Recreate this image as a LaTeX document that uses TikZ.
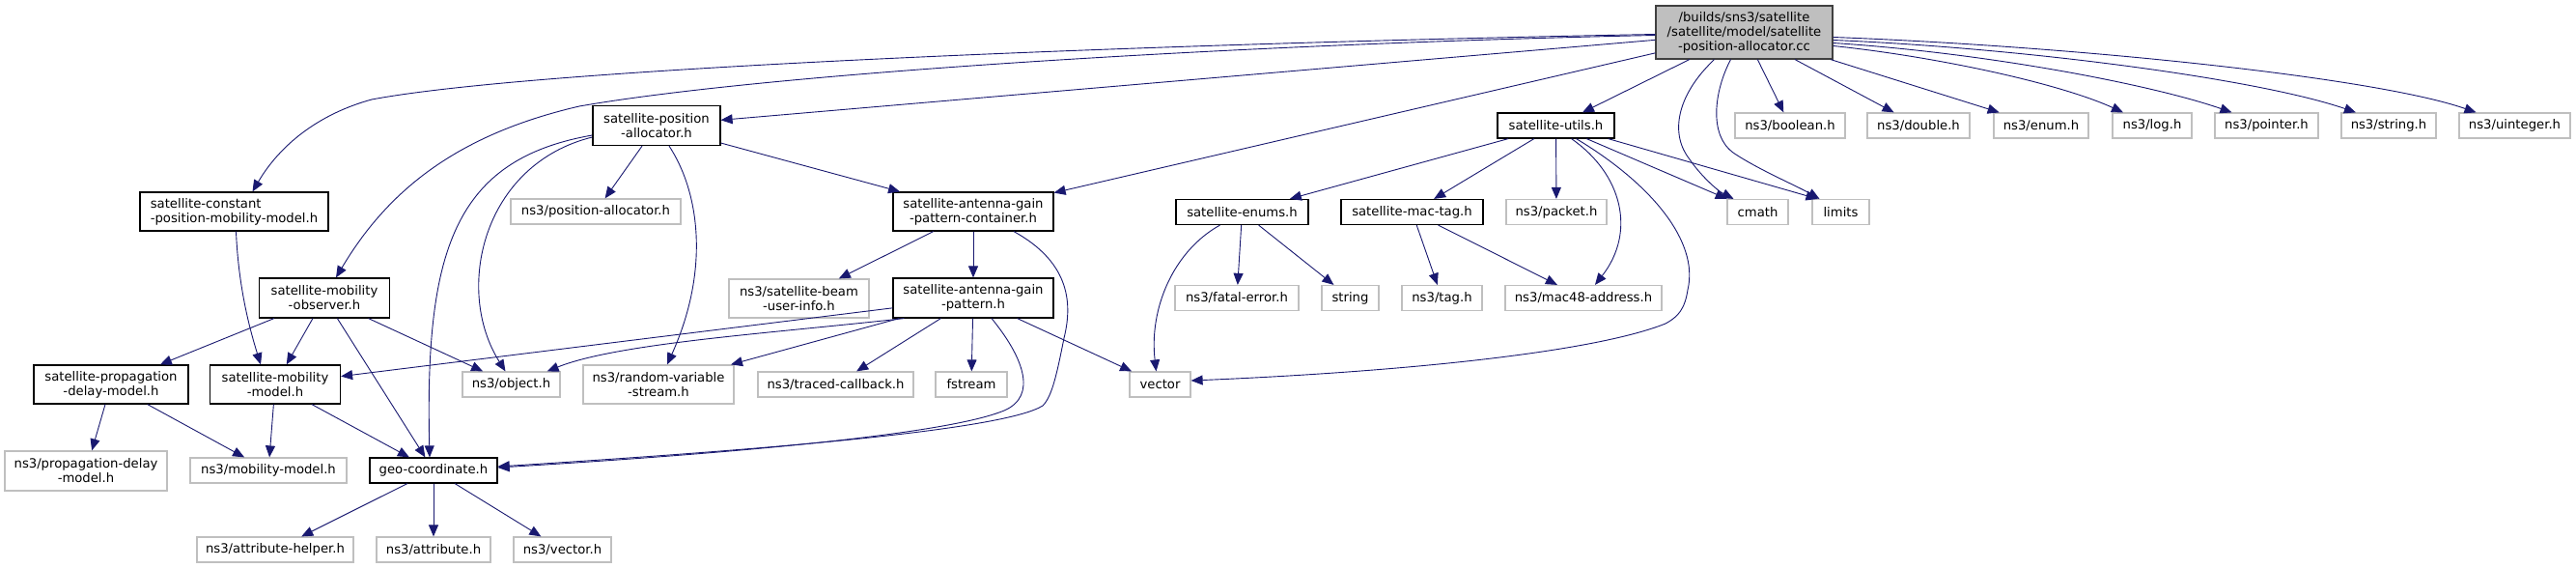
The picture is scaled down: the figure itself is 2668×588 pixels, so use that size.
\documentclass[tikz,border=0pt]{standalone}
\usepackage{fontspec}
\setmainfont{DejaVu Sans}
\usetikzlibrary{arrows.meta,calc}
\definecolor{edgeblue}{HTML}{191970}
\definecolor{extgray}{HTML}{BFBFBF}
\definecolor{topfill}{HTML}{BFBFBF}
\definecolor{topdraw}{HTML}{404040}
\tikzset{
  base/.style={draw, rectangle, inner sep=0pt, align=center, fill=white,
    line width=0.6pt, font=\fontsize{6.6pt}{7.5pt}\selectfont},
  int/.style={base, draw=black},
  ext/.style={base, draw=extgray},
  topnode/.style={base, draw=topdraw, fill=topfill},
  bw/.style={minimum width=#1*0.5pt},
  bh/.style={minimum height=#1*0.5pt},
  dep/.style={draw=edgeblue, line width=0.45pt, -{Triangle[length=6pt,width=5pt]}}
}
\begin{document}
\begin{tikzpicture}[x=0.5pt,y=-0.5pt]
\fill[white] (0,0) rectangle (2668,588);
\useasboundingbox (0,0) rectangle (2668,588);

% nodes
\node[topnode,bw=183,bh=55] (t) at (1806.5,33.5) {/builds/sns3/satellite\\/satellite/model/satellite\\-position-allocator.cc};
\node[int,bw=195,bh=40,align=left] (sc) at (242.5,219) {satellite-constant\\-position-mobility-model.h};
\node[int,bw=132,bh=41] (spa) at (680,130) {satellite-position\\-allocator.h};
\node[ext,bw=176,bh=26] (pa) at (617,219) {ns3/position-allocator.h};
\node[int,bw=135,bh=41] (mo) at (336,308.5) {satellite-mobility\\-observer.h};
\node[int,bw=160,bh=40] (spd) at (115,398) {satellite-propagation\\-delay-model.h};
\node[int,bw=135,bh=40] (smm) at (285,398) {satellite-mobility\\-model.h};
\node[ext,bw=101,bh=26] (ob) at (529.5,398) {ns3/object.h};
\node[ext,bw=156,bh=40] (rvs) at (682,398) {ns3/random-variable\\-stream.h};
\node[ext,bw=161,bh=26] (tc) at (865.5,398) {ns3/traced-callback.h};
\node[ext,bw=168,bh=41] (pdm) at (89,487.5) {ns3/propagation-delay\\-model.h};
\node[ext,bw=162,bh=26] (mm) at (278,487) {ns3/mobility-model.h};
\node[int,bw=132,bh=26] (gc) at (449,487) {geo-coordinate.h};
\node[ext,bw=162,bh=26] (ah) at (285,569) {ns3/attribute-helper.h};
\node[ext,bw=118,bh=26] (at) at (449,569) {ns3/attribute.h};
\node[ext,bw=101,bh=26] (vh) at (582.5,569) {ns3/vector.h};
\node[ext,bw=145,bh=40] (bu) at (827.5,309) {ns3/satellite-beam\\-user-info.h};
\node[int,bw=166,bh=40] (ac) at (1008,219) {satellite-antenna-gain\\-pattern-container.h};
\node[int,bw=166,bh=41] (agp) at (1008,308.5) {satellite-antenna-gain\\-pattern.h};
\node[ext,bw=74,bh=26] (fs) at (1006,398) {fstream};
\node[ext,bw=63,bh=26] (ve) at (1201.5,398) {vector};
\node[int,bw=121,bh=26] (su) at (1611.5,130) {satellite-utils.h};
\node[int,bw=137,bh=26] (se) at (1286.5,219.5) {satellite-enums.h};
\node[int,bw=147,bh=26] (mt) at (1462.5,219.5) {satellite-mac-tag.h};
\node[ext,bw=104,bh=26] (pk) at (1612,219.5) {ns3/packet.h};
\node[ext,bw=128,bh=26] (fe) at (1281,308.5) {ns3/fatal-error.h};
\node[ext,bw=59,bh=26] (st) at (1398.5,308.5) {string};
\node[ext,bw=83,bh=26] (tg) at (1493.5,308.5) {ns3/tag.h};
\node[ext,bw=162,bh=26] (ma) at (1640,308.5) {ns3/mac48-address.h};
\node[ext,bw=114,bh=26] (bo) at (1854,130) {ns3/boolean.h};
\node[ext,bw=106,bh=26] (db) at (1987,130) {ns3/double.h};
\node[ext,bw=98,bh=26] (en) at (2114,130) {ns3/enum.h};
\node[ext,bw=82,bh=26] (lg) at (2229,130) {ns3/log.h};
\node[ext,bw=107,bh=26] (pt) at (2347.5,130) {ns3/pointer.h};
\node[ext,bw=98,bh=26] (sg) at (2474,130) {ns3/string.h};
\node[ext,bw=115,bh=26] (ui) at (2604.5,130) {ns3/uinteger.h};
\node[ext,bw=63,bh=26] (cm) at (1820.5,219.5) {cmath};
\node[ext,bw=59,bh=26] (li) at (1906.5,219.5) {limits};

% edges from the top file
\draw[dep] ($(t.west)+(0,2)$) .. controls (1200,45) and (560,70) .. (385,103) .. controls (330,118) and (290,150) .. ($(sc.north)+(19,0)$);
\draw[dep] ($(t.west)+(0,3)$) .. controls (1300,45) and (800,75) .. (600,110) .. controls (470,140) and (400,200) .. ($(mo.north)+(12,0)$);
\draw[dep] (t) -- (spa);
\draw[dep] (t) -- (ac);
\draw[dep] (t) -- (su);
\draw[dep] ($(t.south)+(-31,0)$) .. controls (1735,100) and (1730,140) .. (1750,165) .. controls (1760,180) and (1778,197) .. ($(cm.north)+(-25,0)$);
\draw[dep] ($(t.south)+(-14,0)$) .. controls (1775,95) and (1770,140) .. (1795,158) .. controls (1820,175) and (1860,192) .. ($(li.north)+(-22,0)$);
\draw[dep] (t) -- (bo);
\draw[dep] (t) -- (db);
\draw[dep] (t) -- (en);
\draw[dep] ($(t.east)+(0,14)$) .. controls (2000,58) and (2130,85) .. ($(lg.north)+(-30,0)$);
\draw[dep] ($(t.east)+(0,11)$) .. controls (2060,55) and (2230,88) .. ($(pt.north)+(-36,0)$);
\draw[dep] ($(t.east)+(0,8)$) .. controls (2100,50) and (2340,82) .. ($(sg.north)+(-34,0)$);
\draw[dep] ($(t.east)+(0,5)$) .. controls (2150,48) and (2460,80) .. ($(ui.north)+(-40,0)$);

% satellite-position-allocator.h
\draw[dep] (spa) -- (pa);
\draw[dep] (spa) -- (ac);
\draw[dep] ($(spa.south)+(13,0)$) .. controls (725,200) and (735,280) .. ($(rvs.north)+(9,0)$);
\draw[dep] ($(spa.west)+(0,12)$) .. controls (500,170) and (470,300) .. ($(ob.north)+(-6,0)$);
\draw[dep] ($(spa.west)+(0,10)$) .. controls (470,165) and (440,260) .. ($(gc.north)+(-4,0)$);

% constant position mobility model
\draw[dep] ($(sc.south)+(2,0)$) .. controls (247,300) and (260,345) .. ($(smm.north)+(-15,0)$);

% mobility observer
\draw[dep] (mo) -- (spd);
\draw[dep] (mo) -- (smm);
\draw[dep] (mo) -- (gc);
\draw[dep] (mo) -- (ob);

% propagation delay / mobility model
\draw[dep] (spd) -- (pdm);
\draw[dep] (spd) -- (mm);
\draw[dep] (smm) -- (mm);
\draw[dep] (smm) -- (gc);

% geo-coordinate
\draw[dep] (gc) -- (ah);
\draw[dep] (gc) -- (at);
\draw[dep] (gc) -- (vh);

% antenna gain pattern container
\draw[dep] (ac) -- (bu);
\draw[dep] (ac) -- (agp);
\draw[dep] ($(ac.south)+(42,0)$) .. controls (1105,270) and (1112,310) .. (1102,350) .. controls (1095,385) and (1090,410) .. (1080,420) .. controls (1040,445) and (800,465) .. ($(gc.east)+(0,-4)$);

% antenna gain pattern
\draw[dep] (agp) -- (smm);
\draw[dep] ($(agp.south west)+(12,0)$) .. controls (800,345) and (640,355) .. ($(ob.north east)+(-14,0)$);
\draw[dep] (agp) -- (rvs);
\draw[dep] (agp) -- (tc);
\draw[dep] (agp) -- (fs);
\draw[dep] (agp) -- (ve);
\draw[dep] ($(agp.south)+(19,0)$) .. controls (1060,370) and (1075,410) .. (1040,425) .. controls (980,450) and (750,470) .. ($(gc.east)+(0,-3)$);

% satellite-utils.h
\draw[dep] (su) -- (se);
\draw[dep] (su) -- (mt);
\draw[dep] (su) -- (pk);
\draw[dep] ($(su.south)+(16,0)$) .. controls (1680,180) and (1695,240) .. ($(ma.north)+(12,0)$);
\draw[dep] ($(su.south)+(21,0)$) .. controls (1710,190) and (1760,250) .. (1748,300) .. controls (1745,320) and (1738,328) .. (1725,335) .. controls (1650,365) and (1450,385) .. ($(ve.east)+(0,-4)$);
\draw[dep] (su) -- (cm);
\draw[dep] ($(su.south east)+(-7,0)$) -- ($(li.north)+(-24,0)$);

% satellite-enums.h
\draw[dep] (se) -- (fe);
\draw[dep] (se) -- (st);
\draw[dep] ($(se.south)+(-23,0)$) .. controls (1215,260) and (1190,320) .. ($(ve.north)+(-4,0)$);

% satellite-mac-tag.h
\draw[dep] (mt) -- (tg);
\draw[dep] (mt) -- (ma);
\end{tikzpicture}
\end{document}
